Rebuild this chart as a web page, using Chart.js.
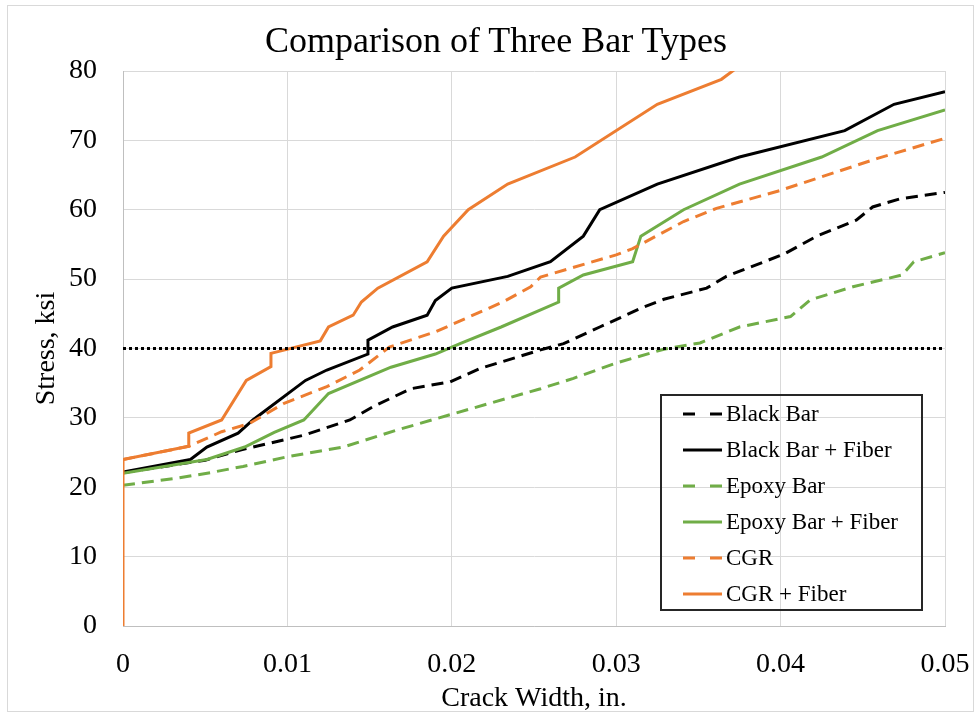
<!DOCTYPE html>
<html>
<head>
<meta charset="utf-8">
<script src="https://cdn.jsdelivr.net/npm/chart.js@4.4.1/dist/chart.umd.min.js"></script>
<style>
  body { margin: 0; background: #fff; }
  #wrap { position: relative; width: 976px; height: 715px; font-family: "Liberation Serif", serif; }
  #frame { position: absolute; left: 7px; top: 5px; width: 967px; height: 707px; border: 1px solid #d9d9d9; box-sizing: border-box; pointer-events: none; }
  #chart { position: absolute; left: 0; top: 0; }
  #title { position: absolute; left: 0; width: 992px; top: 22px; text-align: center; font-size: 36px; line-height: 36px; color: #000; white-space: nowrap; }
  #legend { position: absolute; left: 660px; top: 394px; width: 263px; height: 217px; border: 2px solid #262626; box-sizing: border-box; }
  .row { display: flex; align-items: center; height: 36px; padding-left: 21px; font-size: 23px; color: #000; white-space: nowrap; }
  .row svg { margin-right: 4px; flex: none; }
</style>
</head>
<body>
<div id="wrap">
  <canvas id="chart" width="976" height="715"></canvas>
  <div id="frame"></div>
  <div id="title">Comparison of Three Bar Types</div>
  <div id="legend"></div>
</div>
<script>
const ORANGE = "#ED7D31";
const GREEN = "#70AD47";
const BLACK = "#000000";

// crack width (in.) / stress (ksi)
const blackBarX = [0, 0.0050, 0.0072, 0.0110, 0.0138, 0.0152, 0.0175, 0.0199, 0.0217, 0.0254, 0.0268, 0.0290, 0.0315, 0.0329, 0.0355, 0.0367, 0.0402, 0.0422, 0.0446, 0.0456, 0.0473, 0.0500];
const blackBarY = [22.1, 23.9, 25.4, 27.5, 29.7, 31.6, 34.2, 35.2, 37.1, 39.8, 40.7, 43.1, 45.8, 47.1, 48.7, 50.4, 53.6, 56.2, 58.5, 60.4, 61.6, 62.5];

const blackFiberX = [0, 0.0041, 0.0051, 0.0070, 0.0079, 0.0111, 0.0124, 0.0149, 0.0149, 0.0164, 0.0185, 0.0190, 0.0200, 0.0234, 0.0260, 0.0280, 0.0290, 0.0325, 0.0375, 0.0439, 0.0469, 0.0500];
const blackFiberY = [22.2, 24.0, 25.8, 27.8, 29.7, 35.4, 36.9, 39.2, 41.2, 43.1, 44.8, 46.9, 48.7, 50.4, 52.5, 56.2, 60.0, 63.7, 67.6, 71.4, 75.2, 77.0];

const epoxyBarX = [0, 0.0033, 0.0053, 0.0073, 0.0100, 0.0134, 0.0166, 0.0201, 0.0254, 0.0274, 0.0300, 0.0329, 0.0351, 0.0375, 0.0406, 0.0418, 0.0444, 0.0474, 0.0481, 0.0500];
const epoxyBarY = [20.3, 21.3, 22.1, 23.0, 24.4, 25.8, 28.2, 30.6, 34.2, 35.7, 37.9, 39.9, 40.8, 43.1, 44.6, 47.0, 48.9, 50.6, 52.5, 53.8];

const epoxyFiberX = [0, 0.0051, 0.0074, 0.0092, 0.0110, 0.0125, 0.0163, 0.0190, 0.0205, 0.0230, 0.0265, 0.0265, 0.0280, 0.0310, 0.0315, 0.0341, 0.0375, 0.0425, 0.0459, 0.0500];
const epoxyFiberY = [22.0, 24.0, 25.8, 27.9, 29.7, 33.5, 37.3, 39.2, 40.7, 43.1, 46.7, 48.7, 50.6, 52.5, 56.2, 60.0, 63.7, 67.6, 71.4, 74.4];

const cgrX = [0, 0.0040, 0.0060, 0.0077, 0.0098, 0.0124, 0.0144, 0.0162, 0.0190, 0.0231, 0.0248, 0.0254, 0.0300, 0.0310, 0.0341, 0.0361, 0.0400, 0.0459, 0.0500];
const cgrY = [24.0, 25.9, 28.0, 29.2, 32.1, 34.5, 36.9, 40.2, 42.4, 46.7, 48.9, 50.3, 53.5, 54.4, 58.3, 60.2, 62.8, 67.4, 70.3];

const cgrFiberX = [0, 0, 0.0040, 0.0040, 0.0060, 0.0075, 0.0090, 0.0090, 0.0120, 0.0125, 0.0140, 0.0145, 0.0155, 0.0185, 0.0195, 0.0210, 0.0234, 0.0275, 0.0325, 0.0364, 0.0385];
const cgrFiberY = [0, 24.0, 25.9, 27.8, 29.7, 35.4, 37.4, 39.3, 41.1, 43.1, 44.8, 46.7, 48.7, 52.5, 56.2, 60.0, 63.7, 67.6, 75.2, 78.8, 82.5];

const limitX = [0, 0.05];
const limitY = [40, 40];

const xTicks = [0, 0.01, 0.02, 0.03, 0.04, 0.05];
const yTicks = [0, 10, 20, 30, 40, 50, 60, 70, 80];

const zip = (xs, ys) => xs.map((x, i) => ({ x, y: ys[i] }));

const DASH = [12, 7];

// first dataset is drawn on top
const series = [
  { label: "40 ksi", data: zip(limitX, limitY), color: BLACK, dash: [3, 3] },
  { label: "CGR + Fiber", data: zip(cgrFiberX, cgrFiberY), color: ORANGE, dash: [] },
  { label: "CGR", data: zip(cgrX, cgrY), color: ORANGE, dash: DASH },
  { label: "Epoxy Bar + Fiber", data: zip(epoxyFiberX, epoxyFiberY), color: GREEN, dash: [] },
  { label: "Epoxy Bar", data: zip(epoxyBarX, epoxyBarY), color: GREEN, dash: DASH },
  { label: "Black Bar + Fiber", data: zip(blackFiberX, blackFiberY), color: BLACK, dash: [] },
  { label: "Black Bar", data: zip(blackBarX, blackBarY), color: BLACK, dash: DASH },
];

const font = (size) => ({ family: "'Liberation Serif', serif", size, weight: "normal" });

new Chart(document.getElementById("chart"), {
  type: "line",
  data: {
    datasets: series.map((s) => ({
      label: s.label,
      data: s.data,
      borderColor: s.color,
      borderWidth: 3,
      borderDash: s.dash,
      pointRadius: 0,
      tension: 0,
      fill: false,
    })),
  },
  options: {
    responsive: false,
    animation: false,
    layout: { padding: { left: 0, right: 31, top: 71, bottom: 0 } },
    plugins: {
      legend: { display: false },
      tooltip: { enabled: false },
    },
    scales: {
      x: {
        type: "linear",
        min: 0,
        max: 0.05,
        afterBuildTicks: (scale) => { scale.ticks = xTicks.map((v) => ({ value: v })); },
        afterFit: (scale) => {
          scale.height = 89;
          scale.paddingLeft = 0;
          scale.paddingRight = 0;
        },
        ticks: {
          color: "#000",
          font: font(28),
          padding: 22,
          maxRotation: 0,
          callback: (v) => (v === 0 ? "0" : v.toFixed(2)),
        },
        grid: { color: "#d9d9d9", lineWidth: 1, drawTicks: false },
        border: { color: "#bfbfbf" },
        title: { display: true, text: "Crack Width, in.", color: "#000", font: font(28), padding: { top: 0, bottom: 0 } },
      },
      y: {
        min: 0,
        max: 80,
        afterBuildTicks: (scale) => { scale.ticks = yTicks.map((v) => ({ value: v })); },
        afterFit: (scale) => {
          scale.width = 123;
          scale.paddingTop = 0;
          scale.paddingBottom = 0;
        },
        ticks: { color: "#000", font: font(28), padding: 26 },
        grid: { color: "#d9d9d9", lineWidth: 1, drawTicks: false },
        border: { color: "#bfbfbf" },
        title: { display: true, text: "Stress, ksi", color: "#000", font: font(28), padding: { top: 30, bottom: 0 } },
      },
    },
  },
});

// legend box, order as in the reference
const legendOrder = ["Black Bar", "Black Bar + Fiber", "Epoxy Bar", "Epoxy Bar + Fiber", "CGR", "CGR + Fiber"];
const legend = document.getElementById("legend");
legendOrder.forEach((name) => {
  const s = series.find((d) => d.label === name);
  const dash = s.dash.length ? 'stroke-dasharray="12 15"' : "";
  const row = document.createElement("div");
  row.className = "row";
  row.innerHTML = `<svg width="39" height="36"><line x1="0" y1="18" x2="39" y2="18" stroke="${s.color}" stroke-width="3" ${dash}/></svg><span>${s.label}</span>`;
  legend.appendChild(row);
});
</script>
</body>
</html>
